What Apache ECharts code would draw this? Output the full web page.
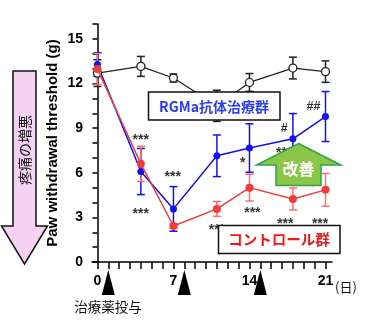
<!DOCTYPE html>
<html>
<head>
<meta charset="utf-8">
<script src="https://cdn.jsdelivr.net/npm/echarts@6/dist/echarts.min.js"></script>
<style>
  html, body { margin: 0; padding: 0; background: #fff; }
  #chart { width: 377px; height: 324px; }
</style>
</head>
<body>
<div id="chart"></div>
<script>
// Measurement days and group means / error (g)
const days = [0, 4, 7, 11, 14, 18, 21];
const shamMean = [12.7, 13.15, 12.37, 10.5, 12.07, 13.04, 12.8];
const shamErr  = [0.9, 0.67, 0.27, 1.05, 0.6, 0.73, 0.72];
const rgmaMean = [13.27, 6.08, 3.57, 7.14, 7.66, 8.28, 9.78];
const rgmaErr  = [0.8, 1.55, 1.5, 1.4, 1.63, 1.7, 1.68];
const ctrlMean = [12.97, 6.6, 2.42, 3.57, 5.0, 4.24, 4.85];
const ctrlErr  = [1.05, 1.18, 0.15, 0.5, 0.9, 0.74, 1.1];

// Dosing days (triangles under the axis)
const doseDays = [1, 8, 15];

// Axis ticks and labels
const xTickDays = Array.from({ length: 22 }, (_, i) => i);
const xLabelDays = [0, 7, 14, 21];
const yLabelStep = 3;

// Significance marks: [day, level, text]
const starMarks = [
  [3.99, 8.4, '***'], [3.99, 3.45, '***'], [6.94, 5.93, '***'],
  [11.0, 2.36, '***'], [13.37, 6.82, '*'], [14.27, 3.5, '***'],
  [17.2, 7.54, '***'], [17.3, 2.78, '***'], [20.5, 2.78, '***']
];
const hashMarks = [[17.2, 9.0, '#'], [19.9, 10.46, '##']];

const BLUE = '#1010f5';
const RED = '#f23c3c';
const RED_ERR = '#ff6a6a';
const FONT = '"Liberation Sans", Arial, sans-serif';
const NARROW = '"Liberation Sans Narrow", "Liberation Sans", Arial, sans-serif';
const JP = '"Noto Sans CJK JP", sans-serif';

function zip(m) { return days.map((d, i) => [d, m[i]]); }
function errData(m, e) { return days.map((d, i) => [d, m[i] - e[i], m[i] + e[i]]); }

function errSeries(m, e, color, z) {
  return {
    type: 'custom', z: z, silent: true,
    data: errData(m, e),
    renderItem: function (params, api) {
      const x = api.value(0);
      const lo = api.coord([x, api.value(1)]);
      const hi = api.coord([x, api.value(2)]);
      const w = 4;
      const st = { stroke: color, lineWidth: 1.5 };
      return {
        type: 'group',
        children: [
          { type: 'line', shape: { x1: hi[0], y1: hi[1], x2: lo[0], y2: lo[1] }, style: st },
          { type: 'line', shape: { x1: hi[0] - w, y1: hi[1], x2: hi[0] + w, y2: hi[1] }, style: st },
          { type: 'line', shape: { x1: lo[0] - w, y1: lo[1], x2: lo[0] + w, y2: lo[1] }, style: st }
        ]
      };
    }
  };
}

function markSeries(marks, size, dy) {
  return {
    type: 'scatter', z: 6, silent: true, symbolSize: 0,
    data: marks.map(m => ({ value: [m[0], m[1]], name: m[2] })),
    label: {
      show: true, position: 'inside', formatter: p => p.name,
      fontFamily: FONT, fontWeight: 'bold', fontSize: size, color: '#000',
      offset: [0, dy]
    }
  };
}

const chart = echarts.init(document.getElementById('chart'), null, { renderer: 'canvas' });

chart.setOption({
  animation: false,
  backgroundColor: '#fff',
  grid: { left: 92, right: 45, top: 24, bottom: 62 },
  xAxis: {
    type: 'value', min: -0.5, max: 21.6,
    splitLine: { show: false },
    axisLine: { lineStyle: { color: '#000', width: 1.5 } },
    axisTick: { show: true, length: 7, customValues: xTickDays, lineStyle: { color: '#000', width: 1.5 } },
    axisLabel: { customValues: xLabelDays, margin: 12, color: '#000', fontFamily: NARROW, fontWeight: 'bold', fontSize: 14 }
  },
  yAxis: {
    type: 'value', min: 0, max: 16, interval: 1,
    splitLine: { show: false },
    axisLine: { show: true, lineStyle: { color: '#000', width: 1.5 } },
    axisTick: { show: true, length: 5, lineStyle: { color: '#000', width: 1.5 } },
    axisLabel: {
      margin: 9, color: '#000', fontFamily: NARROW, fontWeight: 'bold', fontSize: 14,
      formatter: v => (v % yLabelStep === 0 && v <= 15 ? String(v) : '')
    },
    name: 'Paw withdrawal threshold (g)',
    nameLocation: 'middle', nameGap: 32, nameMoveOverlap: false,
    nameTextStyle: { color: '#000', fontFamily: FONT, fontWeight: 'bold', fontSize: 15 }
  },
  series: [
    errSeries(shamMean, shamErr, '#222', 2),
    {
      type: 'line', z: 3, data: zip(shamMean), silent: true,
      lineStyle: { color: '#222', width: 1.3 },
      symbol: 'circle', symbolSize: 8,
      itemStyle: { color: '#fff', borderColor: '#222', borderWidth: 1.3 }
    },
    errSeries(rgmaMean, rgmaErr, BLUE, 2),
    {
      type: 'line', z: 3, data: zip(rgmaMean), silent: true,
      lineStyle: { color: BLUE, width: 1.5 },
      symbol: 'circle', symbolSize: 7,
      itemStyle: { color: BLUE, borderWidth: 0 }
    },
    errSeries(ctrlMean, ctrlErr, RED_ERR, 2),
    {
      type: 'line', z: 4, data: zip(ctrlMean), silent: true,
      lineStyle: { color: RED, width: 1.5 },
      symbol: 'circle', symbolSize: 8,
      itemStyle: { color: RED, borderWidth: 0 }
    },
    markSeries(starMarks, 14, 3),
    markSeries(hashMarks, 12.5, 0),
    {
      // dosing triangles below the time axis
      type: 'custom', clip: false, silent: true, z: 5,
      data: doseDays.map(d => [d]),
      renderItem: function (params, api) {
        const p = api.coord([api.value(0), 0]);
        return {
          type: 'polygon',
          shape: { points: [[p[0], p[1] + 8], [p[0] - 6.5, p[1] + 33], [p[0] + 6.5, p[1] + 33]] },
          style: { fill: '#000' }
        };
      }
    }
  ],
  graphic: [
    // pain aggravation arrow (left)
    {
      type: 'polygon', z: 10,
      shape: { points: [[13, 71], [36, 71], [36, 226], [47.5, 226], [24.5, 264], [1.5, 226], [13, 226]] },
      style: { fill: '#f6d2f2', stroke: '#111', lineWidth: 1.5 }
    },
    {
      type: 'text', z: 11, x: 25, y: 150, rotation: Math.PI / 2,
      style: { text: '疼痛の増悪', font: '14px ' + JP, fill: '#111', align: 'center', verticalAlign: 'middle' }
    },
    // treatment group label
    {
      type: 'rect', z: 10,
      shape: { x: 148.5, y: 92, width: 131.5, height: 28 },
      style: { fill: '#fff', stroke: '#111', lineWidth: 1.5 }
    },
    {
      type: 'text', z: 11, x: 214, y: 106.5,
      style: { text: 'RGMa抗体治療群', font: 'bold 14px ' + JP, fill: '#2b3df5', align: 'center', verticalAlign: 'middle' }
    },
    // control group label
    {
      type: 'rect', z: 10,
      shape: { x: 218.5, y: 225.5, width: 121.5, height: 28 },
      style: { fill: '#fff', stroke: '#111', lineWidth: 1.5 }
    },
    {
      type: 'text', z: 11, x: 279, y: 239.5,
      style: { text: 'コントロール群', font: 'bold 14.5px ' + JP, fill: '#f01818', align: 'center', verticalAlign: 'middle' }
    },
    // improvement arrow
    {
      type: 'polygon', z: 10,
      shape: { points: [[298.5, 143.5], [341, 165], [321, 165], [321, 185.5], [276, 185.5], [276, 165], [256.5, 165]] },
      style: { fill: '#8cc648', stroke: '#2fa24a', lineWidth: 1.5 }
    },
    {
      type: 'text', z: 11, x: 298.5, y: 169,
      style: { text: '改善', font: 'bold 16px ' + JP, fill: '#fff', align: 'center', verticalAlign: 'middle' }
    },
    // unit and dosing captions
    {
      type: 'text', z: 11, x: 335, y: 287,
      style: { text: '(日)', font: '13px ' + JP, fill: '#111', align: 'left', verticalAlign: 'middle' }
    },
    {
      type: 'text', z: 11, x: 108, y: 307,
      style: { text: '治療薬投与', font: '13.5px ' + JP, fill: '#111', align: 'center', verticalAlign: 'middle' }
    }
  ]
});
</script>
</body>
</html>
